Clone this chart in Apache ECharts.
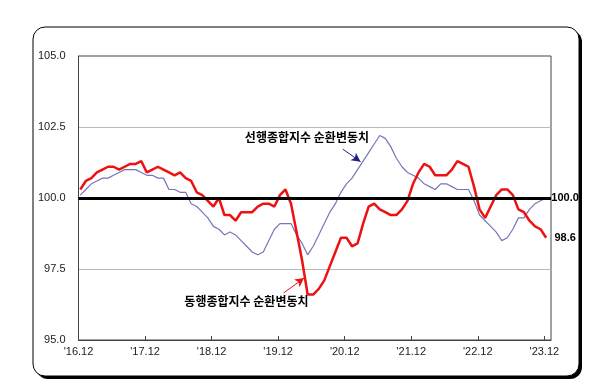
<!DOCTYPE html>
<html><head><meta charset="utf-8">
<script src="https://cdn.jsdelivr.net/npm/echarts@6/dist/echarts.min.js"></script>
<style>html,body{margin:0;padding:0;background:#fff}#c{width:613px;height:385px}</style>
</head><body><div id="c"></div>
<script>
// Monthly values, Dec 2016 .. Dec 2023 (85 months)
const tickLabels = ["'16.12","'17.12","'18.12","'19.12","'20.12","'21.12","'22.12","'23.12"];
const coincident = [
 100.3,100.6,100.7,100.9,101.0,101.1,101.1,101.0,101.1,101.2,
 101.2,101.3,100.9,101.0,101.1,101.0,100.9,100.8,100.9,100.7,
 100.6,100.2,100.1,99.9,99.7,100.0,99.4,99.4,99.2,99.5,
 99.5,99.5,99.7,99.8,99.8,99.7,100.1,100.3,99.8,98.8,
 97.8,96.6,96.6,96.8,97.1,97.6,98.1,98.6,98.6,98.3,
 98.4,99.1,99.7,99.8,99.6,99.5,99.4,99.4,99.6,99.9,
 100.5,100.9,101.2,101.1,100.8,100.8,100.8,101.0,101.3,101.2,
 101.1,100.4,99.6,99.3,99.7,100.1,100.3,100.3,100.1,99.6,
 99.5,99.2,99.0,98.9,98.6];
const leading = [
 100.1,100.3,100.5,100.6,100.7,100.7,100.8,100.9,101.0,101.0,
 101.0,100.9,100.8,100.8,100.7,100.7,100.3,100.3,100.2,100.2,
 99.8,99.7,99.5,99.3,99.0,98.9,98.7,98.8,98.7,98.5,
 98.3,98.1,98.0,98.1,98.5,98.9,99.1,99.1,99.1,98.7,
 98.4,98.0,98.3,98.7,99.1,99.5,99.8,100.2,100.5,100.7,
 101.0,101.3,101.6,101.9,102.2,102.1,101.8,101.4,101.1,100.9,
 100.8,100.7,100.5,100.4,100.3,100.5,100.5,100.4,100.3,100.3,
 100.3,99.9,99.4,99.2,99.0,98.8,98.5,98.6,98.9,99.3,
 99.3,99.6,99.8,99.9,100.0];
const leadingName = '선행종합지수 순환변동치';
const coincidentName = '동행종합지수 순환변동치';
const baseline = 100;

const MONTH_OFFSET = 0.32; // data points sit slightly right of the year ticks
const xMin = 0, xMax = 85.2, xStep = 12;
const toXY = arr => arr.map((v, i) => [i + MONTH_OFFSET, v]);

const KFONT = '"Noto Sans CJK KR", sans-serif';

const chart = echarts.init(document.getElementById('c'));
chart.setOption({
  animation: false,
  backgroundColor: '#fff',
  textStyle: { fontFamily: 'Liberation Sans, Arial, sans-serif' },
  graphic: [
    { type: 'rect', z: -20, shape: { x: 36, y: 30, width: 546, height: 349, r: 12 }, style: { fill: '#000' } },
    { type: 'rect', z: -19, shape: { x: 33, y: 27, width: 546, height: 349, r: 12 }, style: { fill: '#fff', stroke: '#000', lineWidth: 1 } }
  ],
  grid: { left: 78.5, right: 62, top: 56, bottom: 45, show: true, borderColor: '#444', borderWidth: 1, backgroundColor: 'transparent' },
  xAxis: {
    type: 'value', min: xMin, max: xMax, interval: xStep,
    axisLine: { show: true, lineStyle: { color: '#444' } },
    axisTick: { show: true, inside: true, length: 4, lineStyle: { color: '#444' } },
    axisLabel: {
      fontSize: 11, color: '#222', margin: 6, showMaxLabel: false,
      formatter: v => { const k = (v - xMin) / xStep; return Math.abs(k - Math.round(k)) < 0.01 ? (tickLabels[Math.round(k)] || '') : ''; }
    },
    splitLine: { show: false }
  },
  yAxis: {
    type: 'value', min: 95, max: 105, interval: 2.5,
    axisLine: { show: true, lineStyle: { color: '#444' } },
    axisTick: { show: false },
    axisLabel: { fontSize: 11, color: '#222', margin: 13, formatter: v => v.toFixed(1) },
    splitLine: { lineStyle: { color: ['transparent', '#b9b9b9', 'transparent', '#b9b9b9', 'transparent'], width: 1 } }
  },
  series: [
    {
      name: leadingName, type: 'line', z: 2, data: toXY(leading),
      showSymbol: false, symbol: 'none',
      lineStyle: { color: '#7676b8', width: 1.2 },
      endLabel: { show: true, formatter: p => p.value[1].toFixed(1), distance: 19, align: 'center', fontWeight: 'bold', fontSize: 11, color: '#000' },
      markLine: {
        silent: true, symbol: ['none', 'none'], label: { show: false },
        data: [
          { yAxis: baseline, lineStyle: { color: '#000', width: 3, type: 'solid' } },
          [ { coord: [47.65, 101.72], symbol: 'none', lineStyle: { color: '#1f1f80', width: 1, type: 'solid' } },
            { coord: [50.86, 101.28], symbol: 'arrow', symbolSize: [7, 9] } ]
        ]
      },
      markPoint: {
        silent: true, symbolSize: 0,
        label: { show: true, position: 'inside', fontFamily: KFONT, fontWeight: 'bold', fontSize: 12, color: '#000' },
        data: [ { coord: [41.19, 102.12], value: leadingName, label: { formatter: leadingName } } ]
      }
    },
    {
      name: coincidentName, type: 'line', z: 3, data: toXY(coincident),
      showSymbol: false, symbol: 'none',
      lineStyle: { color: '#ee1111', width: 2.5 },
      endLabel: { show: true, formatter: p => p.value[1].toFixed(1), distance: 19, align: 'center', fontWeight: 'bold', fontSize: 11, color: '#000' },
      markLine: {
        silent: true, symbol: ['none', 'none'], label: { show: false },
        data: [
          [ { coord: [36.97, 96.655], symbol: 'none', lineStyle: { color: '#ee1111', width: 1, type: 'solid' } },
            { coord: [40.67, 97.18], symbol: 'arrow', symbolSize: [7, 9] } ]
        ]
      },
      markPoint: {
        silent: true, symbolSize: 0,
        label: { show: true, position: 'inside', fontFamily: KFONT, fontWeight: 'bold', fontSize: 12, color: '#000' },
        data: [ { coord: [30.28, 96.35], value: coincidentName, label: { formatter: coincidentName } } ]
      }
    }
  ]
});
</script></body></html>
